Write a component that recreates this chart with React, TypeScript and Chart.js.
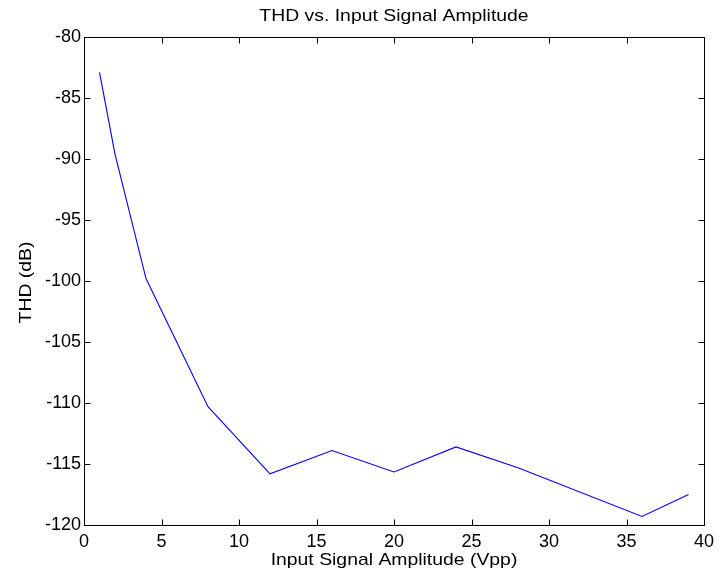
import React, { useEffect, useRef } from "react";
import { Chart, registerables } from "chart.js";

Chart.register(...registerables);

const amplitudeVpp = [1, 2, 4, 8, 12, 16, 20, 24, 28, 36, 39];
const thdDb = [-82.9, -89.6, -99.8, -110.3, -115.8, -113.9, -115.65, -113.6, -115.3, -119.3, -117.5];
const xTickValues = [0, 5, 10, 15, 20, 25, 30, 35, 40];
const yTickValues = [-120, -115, -110, -105, -100, -95, -90, -85, -80];
const chartTitle = "THD vs. Input Signal Amplitude";
const xAxisTitle = "Input Signal Amplitude (Vpp)";
const yAxisTitle = "THD (dB)";

const FONT = '"Liberation Sans", Arial, Helvetica, sans-serif';

function drawStretchedText(
  ctx: CanvasRenderingContext2D,
  text: string,
  cx: number,
  cy: number,
  rot: number,
  size: number,
  sx: number
) {
  ctx.save();
  ctx.translate(cx, cy);
  ctx.rotate(rot);
  ctx.scale(sx, 1);
  ctx.font = `${size}px ${FONT}`;
  ctx.fillStyle = "#000";
  ctx.textAlign = "center";
  ctx.textBaseline = "alphabetic";
  ctx.fillText(text, 0, 0);
  ctx.restore();
}

const framePlugin = {
  id: "matlabFrame",
  afterDraw(chart: any) {
    const { ctx, chartArea: a, scales } = chart;
    const xs = scales.x;
    const ys = scales.y;
    ctx.save();
    ctx.strokeStyle = "#000";
    ctx.lineWidth = 1;
    const l = Math.round(a.left) + 0.5;
    const r = Math.round(a.right) + 0.5;
    const t = Math.round(a.top) + 0.5;
    const b = Math.round(a.bottom) + 0.5;
    ctx.strokeRect(l, t, r - l, b - t);
    const tl = 6;
    ctx.beginPath();
    xs.ticks.forEach((tk: any) => {
      const px = Math.round(xs.getPixelForValue(tk.value)) + 0.5;
      ctx.moveTo(px, b);
      ctx.lineTo(px, b - tl);
      ctx.moveTo(px, t);
      ctx.lineTo(px, t + tl);
    });
    ys.ticks.forEach((tk: any) => {
      const py = Math.round(ys.getPixelForValue(tk.value)) + 0.5;
      ctx.moveTo(l, py);
      ctx.lineTo(l + tl, py);
      ctx.moveTo(r, py);
      ctx.lineTo(r - tl, py);
    });
    ctx.stroke();
    ctx.restore();

    const cx = (a.left + a.right) / 2;
    drawStretchedText(ctx, chartTitle, cx, 21, 0, 17, 1.14);
    drawStretchedText(ctx, xAxisTitle, cx, 565, 0, 17, 1.14);
    drawStretchedText(ctx, yAxisTitle, 31, 282.5, -Math.PI / 2, 17, 1.14);
  },
};

export default function App() {
  const canvasRef = useRef<HTMLCanvasElement | null>(null);

  useEffect(() => {
    document.body.style.margin = "0";
    const canvas = canvasRef.current;
    if (!canvas) return;
    const chart = new Chart(canvas, {
      type: "line",
      data: {
        datasets: [
          {
            label: "THD",
            data: amplitudeVpp.map((x, i) => ({ x, y: thdDb[i] })),
            borderColor: "#0000ff",
            backgroundColor: "#0000ff",
            borderWidth: 1.1,
            pointRadius: 0,
            tension: 0,
            fill: false,
          },
        ],
      },
      options: {
        responsive: false,
        animation: false,
        devicePixelRatio: 1,
        layout: { padding: { top: 37, right: 18, bottom: 0, left: 0 } },
        plugins: {
          legend: { display: false },
          title: { display: false },
          tooltip: { enabled: false },
        },
        scales: {
          x: {
            type: "linear",
            min: 0,
            max: 40,
            afterBuildTicks: (s: any) => {
              s.ticks = xTickValues.map((v) => ({ value: v }));
            },
            afterFit: (s: any) => {
              s.height = 47;
            },
            grid: { display: false, drawTicks: false },
            border: { display: false },
            ticks: {
              color: "#000",
              padding: 6,
              maxRotation: 0,
              autoSkip: false,
              font: { family: FONT, size: 18 },
            },
          },
          y: {
            type: "linear",
            min: -120,
            max: -80,
            afterBuildTicks: (s: any) => {
              s.ticks = yTickValues.map((v) => ({ value: v }));
            },
            afterFit: (s: any) => {
              s.width = 84;
            },
            grid: { display: false, drawTicks: false },
            border: { display: false },
            ticks: {
              color: "#000",
              padding: 3,
              autoSkip: false,
              labelOffset: 0,
              font: { family: FONT, size: 18 },
            },
          },
        },
      },
      plugins: [framePlugin],
    });
    return () => chart.destroy();
  }, []);

  return (
    <div style={{ width: 722, height: 572, background: "#fff" }}>
      <canvas ref={canvasRef} width={722} height={572} />
    </div>
  );
}
